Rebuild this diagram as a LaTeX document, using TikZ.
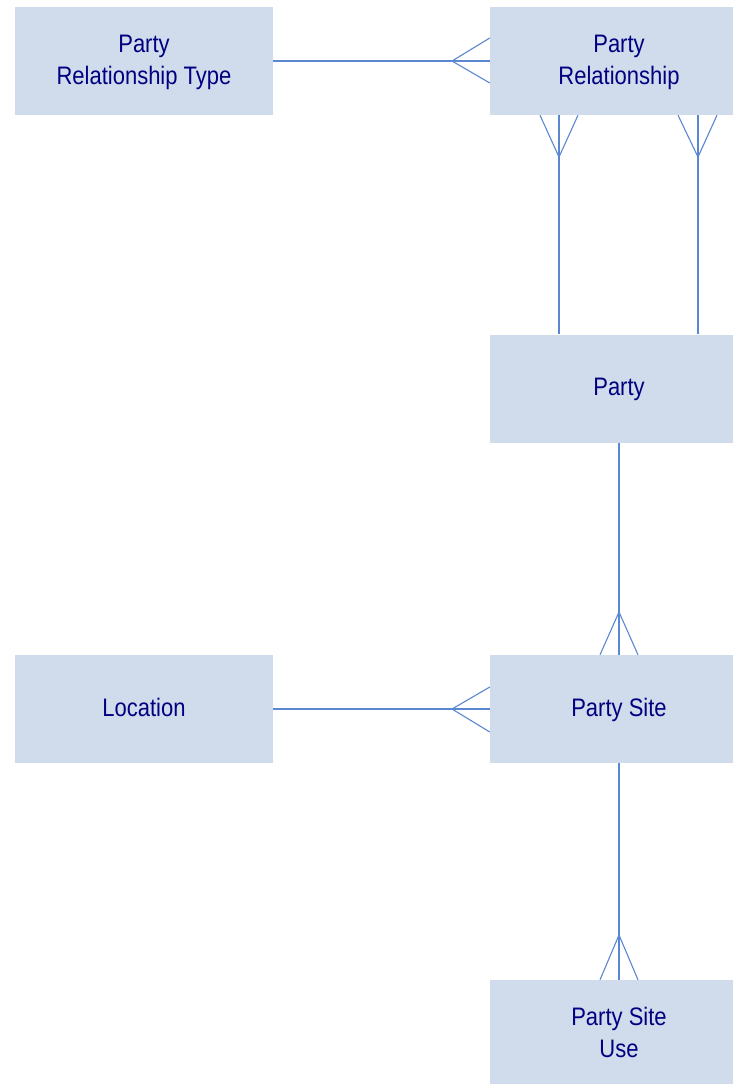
\documentclass[tikz,border=0pt]{standalone}
\usepackage{fontspec}
\setmainfont{Liberation Sans}
\usetikzlibrary{calc}
\definecolor{boxfill}{RGB}{208,220,236}
\definecolor{linec}{RGB}{90,135,210}
\definecolor{txt}{RGB}{0,0,128}
\newcommand\lowtext[1]{\raisebox{-1pt}[\height][\depth]{\scalebox{1}[1.15]{\begin{tabular}{@{}c@{}}#1\end{tabular}}}}
\begin{document}
\begin{tikzpicture}[x=1pt,y=-1pt,
  entity/.style={rectangle,fill=boxfill,draw=none,minimum width=258pt,minimum height=108pt,inner sep=0pt,text=txt,font=\fontsize{22}{27.8}\selectfont},
  rel/.style={draw=linec,line width=1.1pt}]
\useasboundingbox (0,0) rectangle (732,1084);
\node[entity] (prt) at (144,61) {\lowtext{Party\\Relationship Type}};
\node[entity] (pr)  at (619,61) {\lowtext{Party\\Relationship}};
\node[entity] (p)   at (619,388.5) {\lowtext{Party}};
\node[entity] (loc) at (144,709) {\lowtext{Location}};
\node[entity] (ps)  at (619,709) {\lowtext{Party Site}};
\node[entity] (psu) at (619,1034) {\lowtext{Party Site\\Use}};
% Party Relationship Type -- Party Relationship
\coordinate (a1) at (452,61);
\draw[rel] (prt.east) -- (pr.west);
\draw[rel] ([yshift=23pt]pr.west) -- (a1) -- ([yshift=-22pt]pr.west);
% Party Relationship -- Party (two lines)
\coordinate (a2) at (559,157);
\coordinate (a3) at (698,157);
\draw[rel] ([xshift=-60pt]pr.south) -- ([xshift=-60pt]p.north);
\draw[rel] ([xshift=-79pt]pr.south) -- (a2) -- ([xshift=-41pt]pr.south);
\draw[rel] ([xshift=79pt]pr.south) -- ([xshift=79pt]p.north);
\draw[rel] ([xshift=59pt]pr.south) -- (a3) -- ([xshift=98pt]pr.south);
% Party -- Party Site
\coordinate (a4) at (619,612);
\draw[rel] (p.south) -- (ps.north);
\draw[rel] ([xshift=-19pt]ps.north) -- (a4) -- ([xshift=19pt]ps.north);
% Location -- Party Site
\coordinate (a5) at (452,709);
\draw[rel] (loc.east) -- (ps.west);
\draw[rel] ([yshift=22pt]ps.west) -- (a5) -- ([yshift=-23pt]ps.west);
% Party Site -- Party Site Use
\coordinate (a6) at (619,935);
\draw[rel] (ps.south) -- (psu.north);
\draw[rel] ([xshift=-19pt]psu.north) -- (a6) -- ([xshift=19pt]psu.north);
\end{tikzpicture}
\end{document}
